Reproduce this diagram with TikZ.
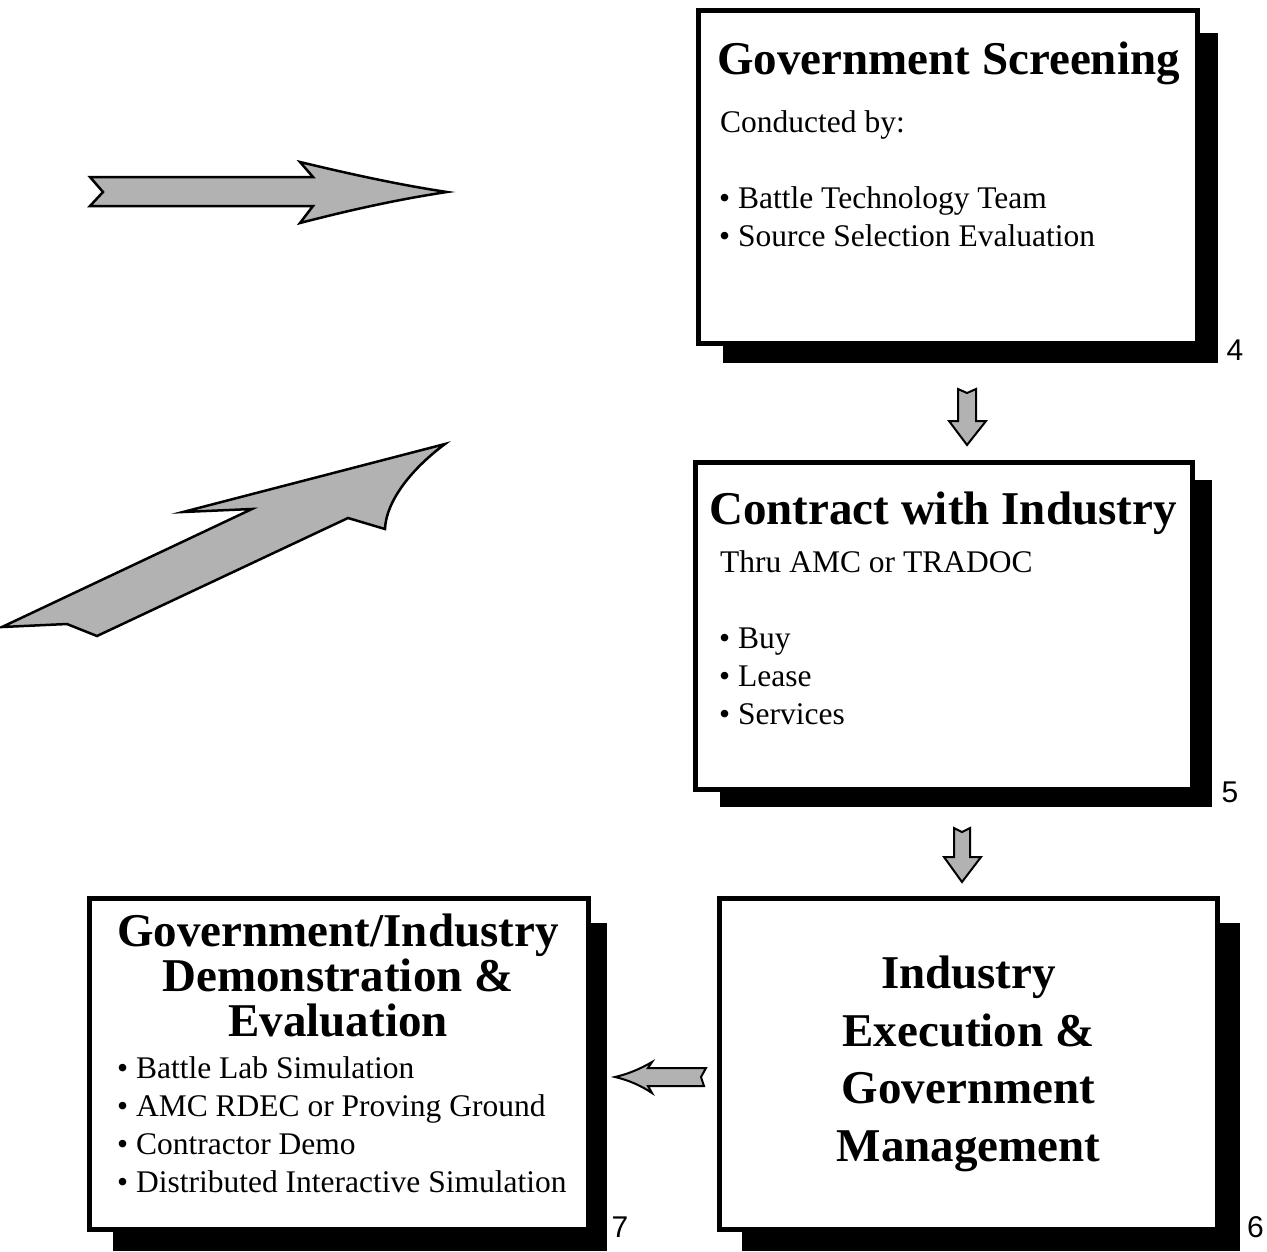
\documentclass[tikz,border=0pt]{standalone}
\usepackage{fontspec}
\setmainfont{Liberation Serif}
\newfontfamily\numfont{Liberation Sans}
\begin{document}
\begin{tikzpicture}[x=1pt,y=-1pt,
  shadowbox/.style={fill=black, draw=none},
  framebox/.style={draw=black, line width=5pt, fill=white, inner sep=0pt},
  ttl/.style={font=\fontsize{47}{45}\selectfont\bfseries, inner sep=0pt},
  bod/.style={font=\fontsize{31.5}{38}\selectfont, inner sep=0pt},
  num/.style={font=\numfont\fontsize{30}{30}\selectfont, inner sep=0pt},
  garrow/.style={fill=black!30, draw=black, line width=2.5pt, line join=miter}]
\useasboundingbox (0,0) rectangle (1267,1251);

% ---- shadows
\fill[shadowbox] (723,33) rectangle (1218,363);
\fill[shadowbox] (720,480) rectangle (1212,807);
\fill[shadowbox] (742,923) rectangle (1240,1251);
\fill[shadowbox] (113,923) rectangle (607,1251);

% ---- boxes
\node[framebox, minimum width=499pt, minimum height=333pt] (box1) at (948,177) {};
\node[framebox, minimum width=497pt, minimum height=327pt] (box2) at (944,626) {};
\node[framebox, minimum width=498pt, minimum height=331pt] (box3) at (968.5,1064) {};
\node[framebox, minimum width=499pt, minimum height=331pt] (box4) at (339,1064) {};

% ---- box 1 text
\node[ttl, anchor=base west] (t1) at (717,74) {Government Screening};
\node[bod, anchor=base west] (c1) at (720,132.5) {Conducted by:};
\node[bod, anchor=base west] (b1a) at (719,208.5) {• Battle Technology Team};
\node[bod, anchor=base west] (b1b) at (719,246.5) {• Source Selection Evaluation};

% ---- box 2 text
\node[ttl, anchor=base west] (t2) at (709,524) {Contract with Industry};
\node[bod, anchor=base west] (c2) at (720,572.5) {Thru AMC or TRADOC};
\node[bod, anchor=base west] (b2a) at (719,648.5) {• Buy};
\node[bod, anchor=base west] (b2b) at (719,686.5) {• Lease};
\node[bod, anchor=base west] (b2c) at (719,724.5) {• Services};

% ---- box 3 text
\node[ttl, anchor=base] (t3a) at (968.5,988) {Industry};
\node[ttl, anchor=base] (t3b) at (968.5,1046) {Execution \&};
\node[ttl, anchor=base] (t3c) at (968.5,1103) {Government};
\node[ttl, anchor=base] (t3d) at (968.5,1161) {Management};

% ---- box 4 text
\node[ttl, anchor=base] (t4a) at (338,946) {Government/Industry};
\node[ttl, anchor=base] (t4b) at (338,991) {Demonstration \&};
\node[ttl, anchor=base] (t4c) at (338,1036) {Evaluation};
\node[bod, anchor=base west] (b4a) at (117,1078) {• Battle Lab Simulation};
\node[bod, anchor=base west] (b4b) at (117,1116) {• AMC RDEC or Proving Ground};
\node[bod, anchor=base west] (b4c) at (117,1154) {• Contractor Demo};
\node[bod, anchor=base west] (b4d) at (117,1192) {• Distributed Interactive Simulation};

% ---- numbers
\node[num, anchor=base] (n4) at (1235,360) {4};
\node[num, anchor=base] (n5) at (1230,802) {5};
\node[num, anchor=base] (n6) at (1255.5,1237) {6};
\node[num, anchor=base] (n7) at (620,1237) {7};

% ---- big horizontal arrow
\draw[garrow] (90,177) -- (103,192) -- (90,206) -- (313,206) -- (300,223)
  .. controls (350,210) and (400,199) .. (447,192)
  .. controls (400,185) and (350,174) .. (300,162) -- (313,177) -- cycle;

% ---- big diagonal arrow
\draw[garrow] (2,627) -- (67,624) -- (97,636) -- (348,518) -- (385,529)
  .. controls (386,502) and (410,470) .. (445,444)
  -- (183,512) -- (252,509) -- cycle;

% ---- down arrow box1 -> box2
\draw[garrow, line width=2pt] (958,389) -- (967,393) -- (976,389) -- (976,421) -- (986,421)
  -- (967,445) -- (949,421) -- (958,421) -- cycle;

% ---- down arrow box2 -> box3
\draw[garrow, line width=2pt] (954,828) -- (962,832) -- (970,828) -- (970,857) -- (981,857)
  -- (962,882) -- (944,857) -- (954,857) -- cycle;

% ---- left arrow box3 -> box4
\draw[garrow, line width=2pt] (706,1068) -- (701,1077) -- (704,1086) -- (648,1086) -- (652,1093)
  .. controls (640,1085) and (628,1080) .. (615,1077)
  .. controls (628,1074) and (640,1069) .. (652,1062) -- (648,1068) -- cycle;
\end{tikzpicture}
\end{document}
